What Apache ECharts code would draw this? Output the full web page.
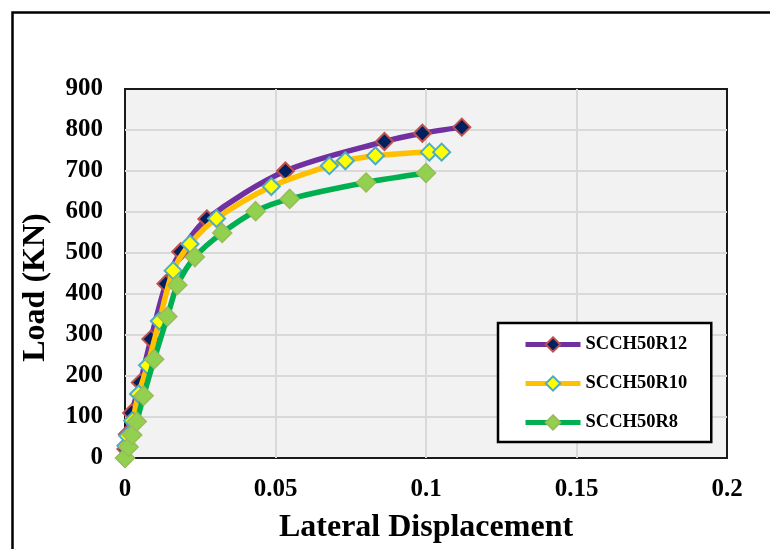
<!DOCTYPE html>
<html>
<head>
<meta charset="utf-8">
<script src="https://cdn.jsdelivr.net/npm/echarts@6/dist/echarts.min.js"></script>
<style>
  html, body { margin: 0; padding: 0; background: #ffffff; }
  #chart { width: 770px; height: 549px; }
</style>
</head>
<body>
<div id="chart"></div>
<script>
// Load–lateral displacement curves for three reinforcement ratios
const seriesNames = ['SCCH50R12', 'SCCH50R10', 'SCCH50R8'];

const dispR12 = [0, 0.0003, 0.0008, 0.0022, 0.0051, 0.0086, 0.0136, 0.0185, 0.0272, 0.0533, 0.0862, 0.0988, 0.1119];
const loadR12 = [0, 22, 58, 110, 184, 290, 425, 503, 583, 700, 772, 792, 807];

const dispR10 = [0, 0.0003, 0.0009, 0.0025, 0.0045, 0.0075, 0.0114, 0.0160, 0.0216, 0.0304, 0.0486, 0.0679, 0.0732, 0.0832, 0.1011, 0.1052];
const loadR10 = [0, 30, 54, 91, 156, 226, 334, 457, 522, 584, 662, 713, 725, 737, 746, 746];

const dispR8 = [0, 0.0012, 0.0024, 0.0039, 0.0062, 0.0097, 0.0141, 0.0174, 0.0232, 0.0323, 0.0434, 0.0547, 0.0801, 0.1];
const loadR8 = [0, 27, 56, 89, 152, 241, 345, 422, 490, 549, 602, 632, 672, 695];

const xTicks = [0, 0.05, 0.1, 0.15, 0.2];
const yTicks = [0, 100, 200, 300, 400, 500, 600, 700, 800, 900];

const pairs = (xs, ys) => xs.map((x, i) => [x, ys[i]]);

const FONT = 'Liberation Serif';

const chart = echarts.init(document.getElementById('chart'), null, { renderer: 'canvas' });

chart.setOption({
  backgroundColor: '#ffffff',
  animation: false,
  graphic: [
    {
      type: 'rect',
      left: 10, top: 10,
      shape: { x: 0, y: 0, width: 790, height: 580 },
      style: { fill: 'none', stroke: '#000000', lineWidth: 2.5 },
      silent: true
    }
  ],
  grid: {
    left: 125, top: 89, width: 602, height: 370,
    show: true,
    backgroundColor: '#F2F2F2',
    borderColor: '#1a1a1a',
    borderWidth: 2
  },
  legend: {
    orient: 'vertical',
    left: 498, top: 323,
    backgroundColor: '#ffffff',
    borderColor: '#000000',
    borderWidth: 2.5,
    padding: [12, 24, 10, 25],
    itemWidth: 55,
    itemHeight: 18,
    itemGap: 20,
    lineStyle: { width: 5 },
    textStyle: { fontFamily: FONT, fontWeight: 'bold', fontSize: 18.5, color: '#000000' },
    data: seriesNames
  },
  xAxis: {
    type: 'value',
    min: 0, max: 0.2, interval: 0.05,
    name: 'Lateral Displacement',
    nameLocation: 'middle',
    nameGap: 54,
    nameTextStyle: { fontFamily: FONT, fontWeight: 'bold', fontSize: 32, color: '#000000' },
    axisLine: { show: false },
    axisTick: { show: false },
    axisLabel: {
      margin: 19,
      fontFamily: FONT, fontWeight: 'bold', fontSize: 25, color: '#000000',
      formatter: v => {
        const t = xTicks.find(k => Math.abs(k - v) < 1e-9);
        return t === undefined ? '' : String(t);
      }
    },
    splitLine: { show: true, showMinLine: false, showMaxLine: false, lineStyle: { color: '#D9D9D9', width: 2 } }
  },
  yAxis: {
    type: 'value',
    min: 0, max: 900, interval: 100,
    name: 'Load (KN)',
    nameLocation: 'middle',
    nameGap: 73,
    nameRotate: 90,
    nameTextStyle: { fontFamily: FONT, fontWeight: 'bold', fontSize: 32, color: '#000000', padding: [0, 28, 0, 0] },
    axisLine: { show: false },
    axisTick: { show: false },
    axisLabel: {
      margin: 22,
      fontFamily: FONT, fontWeight: 'bold', fontSize: 25, color: '#000000',
      formatter: v => (yTicks.indexOf(v) >= 0 ? String(v) : '')
    },
    splitLine: { show: true, showMinLine: false, showMaxLine: false, lineStyle: { color: '#D9D9D9', width: 2 } }
  },
  series: [
    {
      name: seriesNames[0],
      type: 'line',
      smooth: 0.3,
      data: pairs(dispR12, loadR12),
      lineStyle: { color: '#7030A0', width: 5.5 },
      symbol: 'diamond',
      symbolSize: 17,
      itemStyle: { color: '#002060', borderColor: '#C0504D', borderWidth: 2 },
      z: 3
    },
    {
      name: seriesNames[1],
      type: 'line',
      smooth: 0.3,
      data: pairs(dispR10, loadR10),
      lineStyle: { color: '#FFC000', width: 5.5 },
      symbol: 'diamond',
      symbolSize: 17,
      itemStyle: { color: '#FFFF00', borderColor: '#4BACC6', borderWidth: 2 },
      z: 4
    },
    {
      name: seriesNames[2],
      type: 'line',
      smooth: 0.3,
      data: pairs(dispR8, loadR8),
      lineStyle: { color: '#00B050', width: 5.5 },
      symbol: 'diamond',
      symbolSize: 19,
      itemStyle: { color: '#92D050', borderColor: '#9BBB59', borderWidth: 1.5 },
      z: 5
    }
  ]
});
</script>
</body>
</html>
